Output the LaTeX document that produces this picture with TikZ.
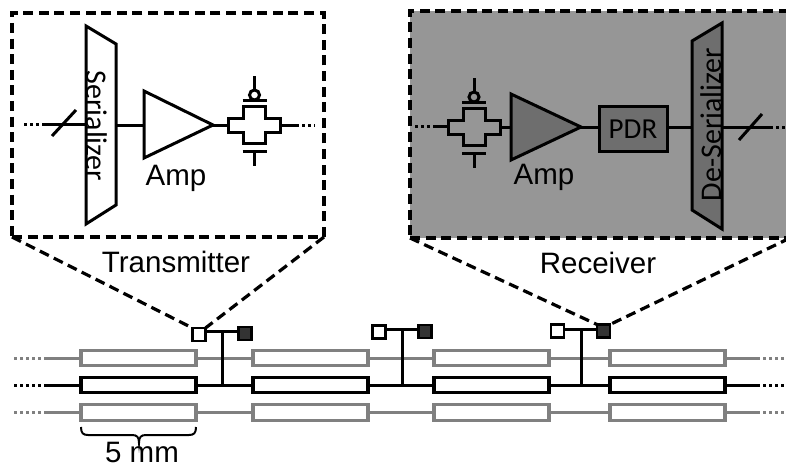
\documentclass[tikz,border=0pt]{standalone}
\usepackage{fontspec}
\setmainfont{Liberation Sans}
\newfontfamily\partfont{Carlito}
\usetikzlibrary{calc,positioning}
\definecolor{wiregray}{HTML}{808080}
\definecolor{panelgray}{HTML}{969696}
\definecolor{partgray}{HTML}{6E6E6E}
\definecolor{padblack}{HTML}{333333}
\tikzset{
    x=1pt,y=-1pt,line join=miter,
    label/.style = {inner sep=0pt,font=\fontsize{29.5}{30}\selectfont},
    sidelabel/.style = {inner sep=0pt,font=\partfont\fontsize{30}{30}\selectfont},
    frame/.style = {draw,dash pattern=on 10pt off 5.6pt,line width=3.2pt,inner sep=0pt,outer sep=0pt},
    zoomline/.style = {dash pattern=on 10pt off 5.6pt,line width=3.2pt},
    sig/.style = {line width=3pt},
    dots/.style = {line width=3pt,dash pattern=on 3pt off 3pt},
    part/.style = {draw,line width=3pt},
    seg/.style = {draw,line width=3.4pt,minimum width=115pt,minimum height=15.5pt,inner sep=0pt,outer sep=0pt},
    pad/.style = {draw,line width=2.6pt,minimum size=13pt,inner sep=0pt,outer sep=0pt},
    tgate/.pic = {
        \draw[part] (-26,-7) -- (-11,-7) -- (-11,-18.5) -- (11,-18.5) -- (11,-7) -- (26,-7)
            -- (26,7) -- (11,7) -- (11,18.5) -- (-11,18.5) -- (-11,7) -- (-26,7) -- cycle;
        \draw[part] (-12,-24.5) -- (12,-24.5);
        \draw[part] (-12,26) -- (12,26);
        \draw[part] (0,-30) circle (5);
        \draw[part] (0,-35) -- (0,-49);
        \draw[part] (0,26) -- (0,41);
        \coordinate (-w) at (-26,0);
        \coordinate (-e) at (26,0);
    }
}

\begin{document}
\begin{tikzpicture}
	\useasboundingbox (0,0) rectangle (786,468);
	% zoom panels
	\node (txbox) [frame,minimum width=312pt,minimum height=224pt] at (168,125) {};
	\node (rxbox) [frame,fill=panelgray,minimum width=380pt,minimum height=227pt] at (600,124.5) {};

	% transmitter
	\draw[part] (86,26) -- (116,44) -- (116,205) -- (86,224) -- cycle;
	\node (sertext) [sidelabel,rotate=-90] at (97,126) {Serializer};
	\draw[part] (144,91) -- (144,158) -- (213,125) -- cycle;
	\node (txamp) [label] at (176,178) {Amp};
	\pic (txgate) at (254.5,125) {tgate};
	\coordinate (txin0) at (24,124);
	\coordinate (txin1) at (44,124);
	\coordinate (serin) at (86,124);
	\coordinate (serout) at (116,125);
	\coordinate (ampin) at (144,125);
	\coordinate (ampout) at (213,125);
	\coordinate (txout1) at (296,125);
	\coordinate (txout0) at (315,125);
	\coordinate (txs0) at (52,136);
	\coordinate (txs1) at (76,110);
	\draw[dots] (txin0) -- (txin1);
	\draw[sig] (txin1) -- (serin);
	\draw[sig] (txs0) -- (txs1);
	\draw[sig] (serout) -- (ampin);
	\draw[sig] (ampout) -- (txgate-w);
	\draw[sig] (txgate-e) -- (txout1);
	\draw[dots] (txout1) -- (txout0);

	% receiver
	\draw[part,fill=partgray] (511,94) -- (511,160) -- (581,127) -- cycle;
	\node (rxamp) [label] at (544,177) {Amp};
	\node (pdr) [part,fill=partgray,minimum width=68pt,minimum height=44pt,inner sep=0pt,outer sep=0pt,font=\partfont\fontsize{29}{29}\selectfont] at (633,129) {PDR};
	\draw[part,fill=partgray] (692,41) -- (722,23) -- (722,229) -- (692,210) -- cycle;
	\node (destext) [sidelabel,rotate=90] at (711,124.5) {De-Serializer};
	\pic (rxgate) at (474,127) {tgate};
	\coordinate (rxin0) at (415,126);
	\coordinate (rxin1) at (435,126);
	\coordinate (ramp1) at (511,127);
	\coordinate (ramp2) at (581,127);
	\coordinate (desin) at (692,127);
	\coordinate (desout) at (722,127);
	\coordinate (rxout1) at (770,127);
	\coordinate (rxout0) at (786,127);
	\coordinate (rxs0) at (739,140);
	\coordinate (rxs1) at (762,114);
	\draw[dots] (rxin0) -- (rxin1);
	\draw[sig] (rxin1) -- (rxin1 -| rxgate-w);
	\draw[sig] (rxgate-e) -- (ramp1);
	\draw[sig] (ramp2) -- (ramp2 -| pdr.west);
	\draw[sig] (desin -| pdr.east) -- (desin);
	\draw[sig] (desout) -- (rxout1);
	\draw[sig] (rxs0) -- (rxs1);
	\draw[dots] (rxout1) -- (rxout0);

	\node (txlabel) [label] at (176,262) {Transmitter};
	\node (rxlabel) [label] at (598,263) {Receiver};

	% bus
	\foreach \r/\y/\c in {t/358/wiregray,m/385/black,b/412.5/wiregray}{
		\foreach \i/\x in {1/138.5,2/310.5,3/491.5,4/667.5}
			\node (\r\i) [seg,draw=\c] at (\x,\y) {};
		\coordinate (\r a) at (14,\y);
		\coordinate (\r b) at (47,\y);
		\coordinate (\r c) at (757,\y);
		\coordinate (\r d) at (786,\y);
		\draw[dots,\c] (\r a) -- (\r b);
		\draw[sig,\c] (\r b) -- (\r1);
		\draw[sig,\c] (\r1) -- (\r2);
		\draw[sig,\c] (\r2) -- (\r3);
		\draw[sig,\c] (\r3) -- (\r4);
		\draw[sig,\c] (\r4) -- (\r c);
		\draw[dots,\c] (\r c) -- (\r d);
	}

	% tap points
	\node (tx1) [pad] at (199,334.5) {};
	\node (rx1) [pad,fill=padblack] at (245,333.5) {};
	\node (tx2) [pad] at (379,332) {};
	\node (rx2) [pad,fill=padblack] at (425,331.5) {};
	\node (tx3) [pad] at (557.5,331) {};
	\node (rx3) [pad,fill=padblack] at (603.5,331) {};
	\coordinate (j1) at (222,331);
	\coordinate (j2) at (402,329);
	\coordinate (j3) at (581,329);
	\draw[sig] (tx1.east |- j1) -- (rx1.west |- j1);
	\draw[sig] (tx2.east |- j2) -- (rx2.west |- j2);
	\draw[sig] (tx3.east |- j3) -- (rx3.west |- j3);
	\foreach \i in {1,2,3}
		\draw[sig] (j\i) -- (j\i |- m1);

	% zoom lines
	\draw[zoomline] (txbox.south west) -- (tx1.north west);
	\draw[zoomline] (txbox.south east) -- (tx1.north east);
	\draw[zoomline] (rxbox.south west) -- (rx3.north west);
	\draw[zoomline] (rxbox.south east) -- (rx3.north east);

	% length mark
	\draw[line width=2pt] (81,427) .. controls (81,433) and (83,435) .. (88,435) -- (132,435)
		.. controls (137,435) and (139,437) .. (139,443) .. controls (139,437) and (141,435) .. (146,435)
		-- (189,435) .. controls (194,435) and (196,433) .. (196,427);
	\node (len) [label] at (142,452.5) {5 mm};
\end{tikzpicture}
\end{document}
